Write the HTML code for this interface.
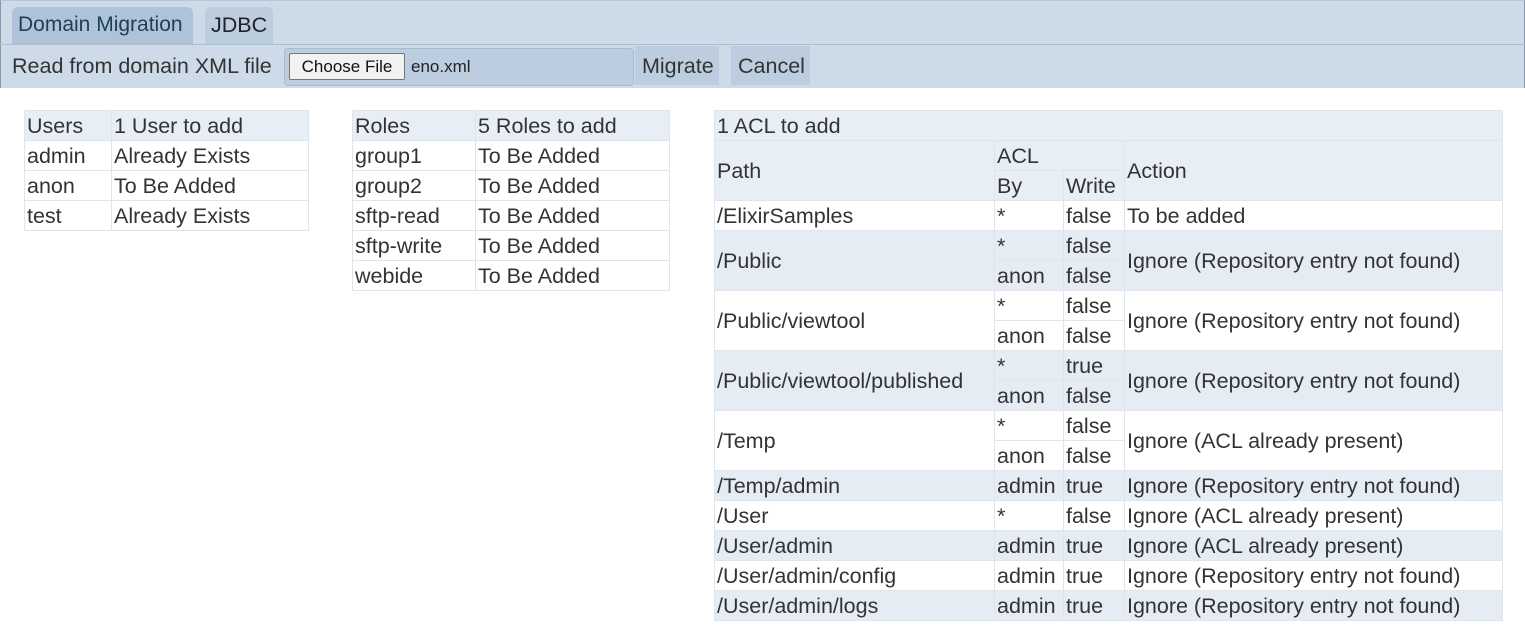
<!DOCTYPE html>
<html><head><style>
*{box-sizing:border-box}
body{margin:0;width:1525px;height:625px;background:#fff;font-family:"Liberation Sans",Arial,sans-serif;font-size:21.5px;color:#333;position:relative;overflow:hidden}
.a{position:absolute;white-space:nowrap}
.top{left:0;top:0;width:1525px;height:88px;background:#cddbe8;border-top:1px solid #b5c6d9;border-right:1px solid #8899aa;border-left:1px solid #8899aa}
.tab{top:7px;height:37px;line-height:36px;padding:0 6px;border-radius:6px 6px 0 0;background:#bccde0;color:#222;overflow:hidden}
.btn{top:46px;height:39px;line-height:40px;background:#bccde0;padding:0 7px;color:#333}
table{position:absolute;border-collapse:collapse;table-layout:fixed}
td{border:1px solid #dde5ee;padding:1px 0 0 2px;height:30px;line-height:28px;white-space:nowrap;vertical-align:middle;overflow:hidden}
.h td,td.h{background:#e8eef6}
.s td{background:#e5ecf4}
</style></head><body>
<div class="a top"></div>
<div class="a" style="left:0;top:44px;width:1525px;height:1px;background:#aebfd3"></div>
<div class="a tab" style="left:12px;width:181px;background:#aec3d9;color:#1f3f4f;font-size:21px">Domain Migration</div>
<div class="a tab" style="left:205px;width:68px">JDBC</div>
<div class="a" style="left:12px;top:46px;line-height:40px">Read from domain XML file</div>
<div class="a" style="left:284px;top:48px;width:350px;height:38px;background:#bccde0;border:1px solid #a8bbd0;border-radius:4px"></div>
<div class="a" style="left:289px;top:53px;width:116px;height:27px;background:#f2f2f2;border:1px solid #767676;border-radius:2px;font-size:17px;line-height:25px;text-align:center;color:#111">Choose File</div>
<div class="a" style="left:411px;top:53px;font-size:17px;line-height:27px;color:#222">eno.xml</div>
<div class="a btn" style="left:635px;width:84px">Migrate</div>
<div class="a btn" style="left:731px;width:79px">Cancel</div>

<table style="left:24px;top:110px;width:285px">
<col style="width:87px"><col>
<tr class="h"><td>Users</td><td>1 User to add</td></tr>
<tr><td>admin</td><td>Already Exists</td></tr>
<tr><td>anon</td><td>To Be Added</td></tr>
<tr><td>test</td><td>Already Exists</td></tr>
</table>

<table style="left:352px;top:110px;width:318px">
<col style="width:123px"><col>
<tr class="h"><td>Roles</td><td>5 Roles to add</td></tr>
<tr><td>group1</td><td>To Be Added</td></tr>
<tr><td>group2</td><td>To Be Added</td></tr>
<tr><td>sftp-read</td><td>To Be Added</td></tr>
<tr><td>sftp-write</td><td>To Be Added</td></tr>
<tr><td>webide</td><td>To Be Added</td></tr>
</table>

<table style="left:714px;top:110px;width:789px">
<col style="width:280px"><col style="width:69px"><col style="width:61px"><col>
<tr class="h"><td colspan="4">1 ACL to add</td></tr>
<tr class="h"><td rowspan="2">Path</td><td colspan="2">ACL</td><td rowspan="2">Action</td></tr>
<tr class="h"><td>By</td><td>Write</td></tr>
<tr><td>/ElixirSamples</td><td>*</td><td>false</td><td>To be added</td></tr>
<tr class="s"><td rowspan="2">/Public</td><td>*</td><td>false</td><td rowspan="2">Ignore (Repository entry not found)</td></tr>
<tr class="s"><td>anon</td><td>false</td></tr>
<tr><td rowspan="2">/Public/viewtool</td><td>*</td><td>false</td><td rowspan="2">Ignore (Repository entry not found)</td></tr>
<tr><td>anon</td><td>false</td></tr>
<tr class="s"><td rowspan="2">/Public/viewtool/published</td><td>*</td><td>true</td><td rowspan="2">Ignore (Repository entry not found)</td></tr>
<tr class="s"><td>anon</td><td>false</td></tr>
<tr><td rowspan="2">/Temp</td><td>*</td><td>false</td><td rowspan="2">Ignore (ACL already present)</td></tr>
<tr><td>anon</td><td>false</td></tr>
<tr class="s"><td>/Temp/admin</td><td>admin</td><td>true</td><td>Ignore (Repository entry not found)</td></tr>
<tr><td>/User</td><td>*</td><td>false</td><td>Ignore (ACL already present)</td></tr>
<tr class="s"><td>/User/admin</td><td>admin</td><td>true</td><td>Ignore (ACL already present)</td></tr>
<tr><td>/User/admin/config</td><td>admin</td><td>true</td><td>Ignore (Repository entry not found)</td></tr>
<tr class="s"><td>/User/admin/logs</td><td>admin</td><td>true</td><td>Ignore (Repository entry not found)</td></tr>
</table>
</body></html>
